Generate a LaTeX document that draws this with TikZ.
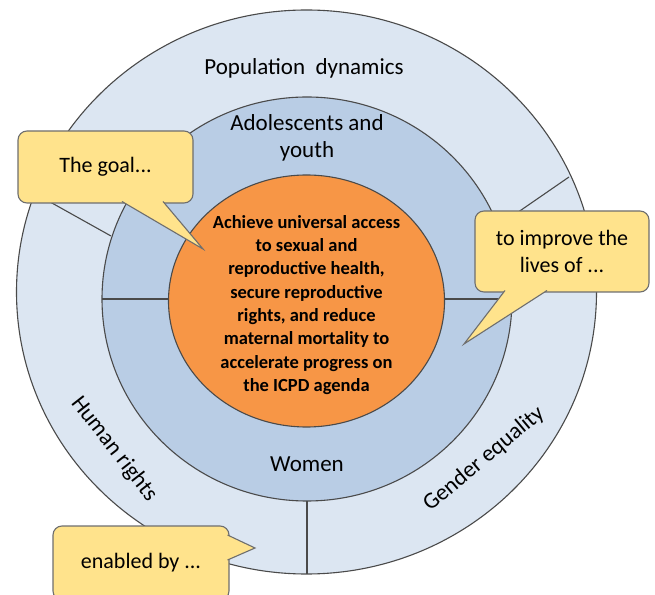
\documentclass[tikz,border=0pt]{standalone}
\usepackage{fontspec}
\setmainfont{Carlito}
\usepackage{tikz}
\definecolor{ringout}{HTML}{DCE6F2}
\definecolor{ringmid}{HTML}{B9CDE5}
\definecolor{core}{HTML}{F79646}
\definecolor{bubble}{HTML}{FFE38C}
\definecolor{edge}{HTML}{4A4A4A}
\newcommand{\fsz}[2]{\fontsize{#1}{#2}\selectfont}

\begin{document}
\begin{tikzpicture}[x=1pt,y=1pt,
  ring/.style={draw=edge,line width=1.1pt},
  ringtext/.style={font=\fsz{23}{27},align=center,inner sep=0pt},
  coretext/.style={font=\bfseries\fsz{18.5}{23.3},align=center,inner sep=0pt},
  bubblebox/.style={draw=edge!80,line width=1.1pt,fill=bubble,rounded corners=9pt,
    font=\fsz{22}{27},align=center,inner sep=0pt},
  bubbletail/.style={draw=edge!80,line width=1.1pt,fill=bubble,line join=miter}]
\useasboundingbox (0,0) rectangle (655,594);
% rings
\filldraw[ring,fill=ringout] (306.5,302) ellipse [x radius=290,y radius=282];
\filldraw[ring,fill=ringmid] (307,295) ellipse [x radius=205,y radius=202];
\coordinate (hl) at (102,295);
\coordinate (hr) at (512,295);
\draw[ring] (hl) -- (hr);
\filldraw[ring,fill=core] (306.5,293) ellipse [x radius=138,y radius=126];
% outer ring dividers
\coordinate (ulin) at (111,358);
\coordinate (ulout) at (34,401);
\coordinate (urin) at (498,368);
\coordinate (urout) at (569,417);
\coordinate (btin) at (307,93);
\coordinate (btout) at (307,20);
\draw[ring] (ulin) -- (ulout);
\draw[ring] (urin) -- (urout);
\draw[ring] (btin) -- (btout);
% labels
\node[ringtext] (pop) at (304,526) {Population\ \ dynamics};
\node[ringtext] (ado) at (307,456) {Adolescents and\\youth};
\node[ringtext] (wom) at (307,130) {Women};
\node[ringtext,rotate=-52] (hum) at (114,145) {Human rights};
\node[ringtext,rotate=40] (gen) at (484,135) {Gender equality};
\node[coretext] (aim) at (306.5,289) {Achieve universal access\\to sexual and\\reproductive health,\\secure reproductive\\rights, and reduce\\maternal mortality to\\accelerate progress on\\the ICPD agenda};
% callouts
\node[bubblebox,minimum width=175,minimum height=72] (goal) at (105.5,427) {The goal...};
\filldraw[bubbletail] (122,392.5) -- (203,345) -- (163,392.5);
\node[bubblebox,minimum width=174,minimum height=81] (lives) at (562,342.5) {to improve the\\lives of ...};
\filldraw[bubbletail] (505,303.5) -- (464,250) -- (547,303.5);
\node[bubblebox,minimum width=176,minimum height=74] (enab) at (141,31) {enabled by ...};
\filldraw[bubbletail] (227.5,59) -- (255,46) -- (227.5,34);
\end{tikzpicture}
\end{document}
